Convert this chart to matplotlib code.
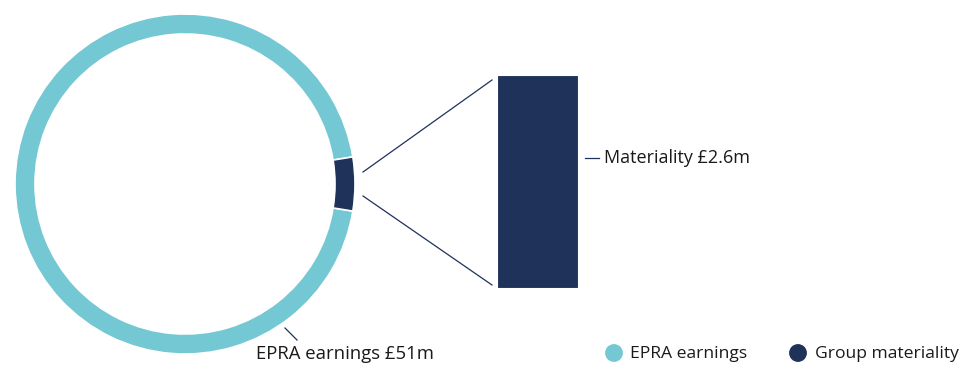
import numpy as np
import matplotlib.pyplot as plt

plt.rcParams['font.family'] = ['Open Sans', 'DejaVu Sans']

# Values (GBP m)
epra_earnings = 51.0
materiality = 2.6
labels = ["EPRA earnings", "Group materiality"]
colors = ["#74C8D3", "#1F325A"]

W, H = 963, 365
fig = plt.figure(figsize=(W / 100, H / 100), dpi=100)
ax = fig.add_axes([0, 0, 1, 1])

# Donut: materiality slice centred on the right-hand side
cx, cy, r_out, ring = 185, H - 184, 170, 20
half = materiality / epra_earnings * 360 / 2
ax.pie([epra_earnings - materiality, materiality], colors=colors,
       radius=r_out, center=(cx, cy), startangle=half, counterclock=True,
       wedgeprops=dict(width=ring, edgecolor="white", linewidth=1.2),
       frame=True)
ax.set_xlim(0, W)
ax.set_ylim(0, H)
ax.set_aspect("equal")
ax.axis("off")

# Zoomed bar for materiality
bar_x, bar_w, bar_bottom = 537.5, 81, H - 288
scale = 213 / materiality
ax.bar(bar_x, materiality * scale, width=bar_w, bottom=bar_bottom,
       color=colors[1], edgecolor="white", linewidth=0.8)
bar_top = bar_bottom + materiality * scale

# Connector lines from slice to bar corners
x0 = 363
ax.plot([x0, bar_x - bar_w / 2 - 5], [cy + 12, bar_top - 5], color=colors[1], lw=0.9)
ax.plot([x0, bar_x - bar_w / 2 - 5], [cy - 12, bar_bottom + 3], color=colors[1], lw=0.9)

fs = 13.0
# Labels
ax.plot([585, 599], [H - 158, H - 158], color=colors[1], lw=0.9)
ax.text(604, H - 158, "Materiality £%.1fm" % materiality, fontsize=fs,
        color="#1a1a1a", va="center", ha="left")
ax.plot([285, 297], [H - 328, H - 340], color=colors[1], lw=0.9)
ax.text(256, H - 354, "EPRA earnings £%.0fm" % epra_earnings, fontsize=fs + 0.3,
        color="#1a1a1a", va="center", ha="left")

# Legend
for lx, tx, c, t in [(614, 630, colors[0], labels[0]), (798, 815, colors[1], labels[1])]:
    ax.scatter([lx], [H - 353], s=165, color=c, edgecolors="none")
    ax.text(tx, H - 354, t, fontsize=12.6, color="#1a1a1a",
            va="center", ha="left")

fig.savefig("out.png", dpi=100)
